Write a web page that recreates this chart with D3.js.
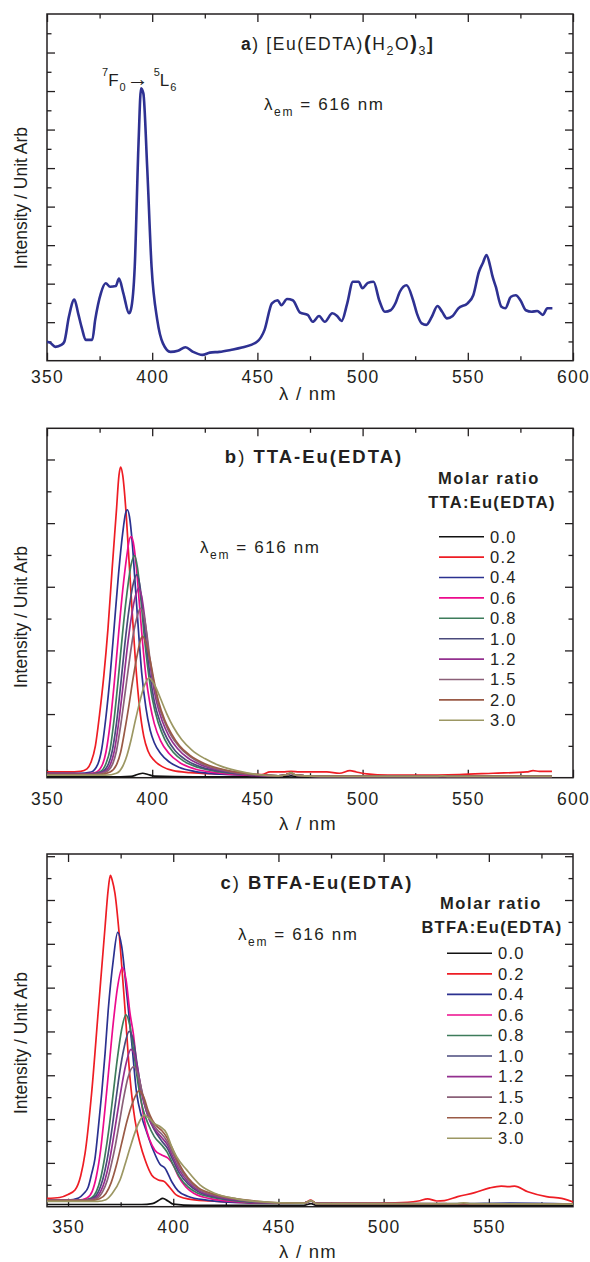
<!DOCTYPE html>
<html>
<head>
<meta charset="utf-8">
<script src="https://cdnjs.cloudflare.com/ajax/libs/d3/7.8.5/d3.min.js"></script>
<style>
  body { margin: 0; background: #fff; }
  text { font-family: "Liberation Sans", Arial, sans-serif; fill: #231f20; }
</style>
</head>
<body>
<script>
// ---- data (intensity in arbitrary units) ----
const ratioLabels = ["0.0", "0.2", "0.4", "0.6", "0.8", "1.0", "1.2", "1.5", "2.0", "3.0"];
const ratioColors = ["#111111", "#ee1d24", "#2b3190", "#ec0b8d", "#3d7c5b", "#4a4a7c",
                     "#93308f", "#8a6078", "#9a5a46", "#9c9763"];

// a) [Eu(EDTA)(H2O)3] excitation spectrum
const euEdta = [[350,0.49],[351.4,0.47],[354,0.36],[356.8,0.41],[358.2,0.49],[360.4,1.14],[363,1.59],
  [364.8,1.23],[366.6,0.84],[368.4,0.54],[371.5,0.54],[372.9,1.06],[375.6,1.75],[377.9,2.01],[380,1.92],
  [382.7,1.94],[384.2,2.13],[386.3,1.75],[389,1.23],[389.9,1.33],[391.7,2.44],[393.5,5.64],[394.7,7.07],
  [395.8,6.94],[397.6,5.04],[399.7,2.44],[402.4,1.06],[405.1,0.45],[408.7,0.23],[412.2,0.26],[415.8,0.35],
  [419.4,0.23],[423.9,0.15],[427.4,0.21],[431.9,0.23],[437.3,0.28],[442.6,0.34],[449.8,0.49],[453.4,0.8],
  [456.9,1.49],[459.6,1.57],[461.4,1.44],[464.1,1.6],[466.8,1.57],[470.3,1.25],[473.9,1.19],[476.3,1.01],
  [479.3,1.16],[482,1.01],[485.6,1.23],[487.9,1.16],[490,1.03],[492.7,1.49],[495.4,2.05],[498.1,2.05],
  [499.9,1.88],[502.5,2.02],[505.2,2.05],[507.9,1.57],[510.6,1.27],[513.3,1.31],[515.6,1.49],[517.7,1.79],
  [520.9,1.96],[524,1.57],[525.8,1.23],[528.1,0.97],[530.3,0.93],[532.9,1.14],[535.6,1.42],[537.8,1.27],
  [540.1,1.1],[542.8,1.16],[545.5,1.36],[549.9,1.49],[552.6,1.7],[555.3,2.31],[557.1,2.53],[558.9,2.74],
  [560.7,2.44],[561.6,2.22],[563.3,1.92],[566,1.4],[567.8,1.36],[570.5,1.66],[572.8,1.7],[575,1.57],
  [577.6,1.31],[580.3,1.27],[583,1.29],[585.7,1.19],[587.8,1.36],[590.2,1.36]];

// b) TTA-Eu(EDTA), one array per molar ratio
const tta00 = [[350,0.015],[385,0.015],[390,0.02],[393,0.05],[395.5,0.07],[398,0.05],[401,0.025],[420,0.015],
  [463,0.015],[466,0.03],[469,0.015],[590,0.015]];
const tta02 = [[350,0.09],[360,0.09],[366,0.1],[369,0.14],[371,0.25],[373,0.5],[375,1.0],[377,1.6],[379,2.35],
  [381,3.3],[383,4.2],[384.2,4.75],[385,4.88],[386,4.75],[387.5,4.2],[389,3.4],[390.5,2.6],[392,1.85],[394,1.1],
  [396,0.65],[398,0.42],[401,0.27],[405,0.17],[410,0.11],[418,0.08],[430,0.06],[445,0.05],[452,0.05],[456,0.09],
  [462,0.09],[466,0.1],[470,0.09],[483,0.09],[489,0.07],[494,0.11],[497,0.09],[502,0.06],[512,0.04],[526,0.04],
  [546,0.05],[562,0.07],[578,0.09],[581,0.11],[584,0.1],[590,0.1]];
const tta04 = [[350,0.07],[365,0.07],[371,0.09],[374,0.2],[376,0.45],[378,0.95],[380,1.6],[382,2.4],[384,3.2],
  [386,3.85],[387.3,4.15],[388.2,4.21],[389.2,4.1],[390.5,3.7],[392,3.0],[393.5,2.3],[395,1.65],[397,1.1],
  [399,0.75],[401,0.55],[404,0.38],[408,0.25],[413,0.16],[420,0.1],[430,0.06],[445,0.04],[460,0.03],[464,0.05],
  [466,0.07],[468,0.04],[480,0.02],[590,0.02]];
const tta06 = [[350,0.06],[368,0.06],[373,0.08],[376,0.18],[378,0.4],[380,0.85],[382,1.5],[384,2.25],[386,2.95],
  [388,3.5],[389.2,3.75],[390.1,3.79],[391,3.7],[392.5,3.3],[394,2.7],[395.5,2.1],[397,1.6],[399,1.15],[401,0.85],
  [404,0.58],[408,0.38],[413,0.24],[420,0.14],[430,0.08],[445,0.04],[460,0.03],[464,0.05],[466,0.07],[468,0.04],
  [480,0.02],[590,0.02]];
const tta08 = [[350,0.06],[370,0.06],[375,0.09],[378,0.22],[380,0.45],[382,0.95],[384,1.6],[386,2.3],[388,2.9],
  [390,3.35],[391.6,3.49],[393,3.3],[394.5,2.85],[396,2.3],[398,1.7],[400,1.25],[403,0.85],[406,0.6],[410,0.4],
  [415,0.26],[422,0.16],[432,0.09],[445,0.05],[460,0.03],[464,0.05],[466,0.07],[468,0.04],[480,0.02],[590,0.02]];
const tta10 = [[350,0.06],[371,0.06],[376,0.09],[379,0.2],[381,0.42],[383,0.85],[385,1.45],[387,2.1],[389,2.65],
  [391,3.05],[392.7,3.19],[394,3.05],[395.5,2.65],[397,2.15],[399,1.6],[401,1.2],[404,0.85],[407,0.62],[411,0.42],
  [416,0.28],[423,0.17],[433,0.1],[445,0.05],[460,0.03],[464,0.05],[466,0.07],[468,0.04],[480,0.02],[590,0.02]];
const tta12 = [[350,0.055],[372,0.055],[377,0.09],[380,0.2],[382,0.42],[384,0.85],[386,1.4],[388,2.0],[390,2.5],
  [392,2.85],[393.6,2.98],[395,2.85],[396.5,2.5],[398,2.05],[400,1.55],[402,1.2],[405,0.87],[408,0.65],[412,0.46],
  [417,0.31],[424,0.19],[434,0.11],[446,0.05],[460,0.03],[464,0.05],[466,0.07],[468,0.04],[480,0.02],[590,0.02]];
const tta15 = [[350,0.05],[373,0.05],[378,0.09],[381,0.2],[383,0.42],[385,0.82],[387,1.3],[389,1.8],[391,2.25],
  [393,2.55],[394.4,2.66],[396,2.55],[397.5,2.25],[399,1.85],[401,1.45],[403,1.15],[406,0.87],[409,0.66],[413,0.48],
  [418,0.33],[425,0.2],[435,0.11],[447,0.05],[460,0.03],[464,0.05],[466,0.07],[468,0.04],[480,0.02],[590,0.02]];
const tta20 = [[350,0.05],[375,0.05],[380,0.09],[383,0.2],[385,0.4],[387,0.75],[389,1.15],[391,1.58],[393,1.95],
  [394.5,2.17],[395.5,2.22],[397,2.12],[399,1.85],[401,1.5],[403,1.2],[406,0.9],[409,0.7],[413,0.5],[418,0.35],
  [425,0.22],[435,0.12],[447,0.06],[460,0.03],[464,0.05],[466,0.08],[468,0.04],[480,0.02],[590,0.02]];
const tta30 = [[350,0.04],[378,0.04],[383,0.07],[386,0.18],[388,0.35],[390,0.6],[392,0.9],[394,1.18],[396,1.42],
  [398.5,1.57],[400,1.52],[402,1.4],[404,1.24],[407,1.0],[410,0.8],[414,0.6],[419,0.43],[425,0.3],[432,0.19],
  [440,0.11],[450,0.05],[460,0.03],[464,0.05],[466,0.08],[468,0.04],[480,0.02],[535,0.02],[538,0.03],[541,0.02],
  [590,0.02]];
const ttaSeries = [tta00, tta02, tta04, tta06, tta08, tta10, tta12, tta15, tta20, tta30];

// c) BTFA-Eu(EDTA), one array per molar ratio
const btfa00 = [[340,0.05],[370,0.05],[385,0.05],[390,0.07],[393,0.14],[395,0.19],[397.5,0.13],[400,0.06],
  [410,0.03],[462,0.03],[465.5,0.07],[468,0.03],[590,0.03]];
const btfa02 = [[340,0.19],[346,0.21],[350,0.28],[353.3,0.38],[356,0.7],[358.1,1.22],[361.2,2.59],[364.4,4.49],
  [367.6,6.39],[369,7.2],[370.1,7.56],[371,7.45],[372.3,7.15],[374.7,6.01],[377.1,4.49],[379.4,2.97],[381.8,1.98],
  [384.2,1.45],[386.6,1.07],[389.8,0.72],[392.9,0.61],[395.5,0.58],[398,0.46],[401.4,0.27],[406.8,0.18],
  [417.6,0.13],[433.8,0.09],[450,0.08],[462.5,0.09],[465.4,0.15],[467.9,0.08],[487.6,0.08],[505.6,0.09],
  [516.4,0.13],[520.9,0.18],[525.3,0.13],[528.9,0.14],[535.2,0.23],[543.3,0.32],[550.5,0.43],[555.9,0.47],
  [559.5,0.46],[562.2,0.47],[568.5,0.34],[577.4,0.23],[584.6,0.19],[590,0.11]];
const btfa04 = [[340,0.15],[350,0.15],[355,0.2],[357.5,0.3],[359.6,0.45],[361.2,0.75],[362.8,1.1],[364.4,1.8],
  [366,2.59],[367.6,3.5],[369.1,4.49],[371.5,5.63],[373.6,6.26],[375.5,5.94],[377.9,4.87],[380.3,3.73],
  [382.6,2.59],[385,2.05],[387.4,1.7],[390.5,1.29],[393.7,0.97],[396.1,0.88],[399.3,0.57],[402.3,0.36],
  [406.8,0.24],[415.8,0.15],[433.8,0.09],[450,0.08],[462,0.08],[465.5,0.13],[468,0.07],[490,0.06],[540,0.07],
  [560,0.08],[590,0.06]];
const btfa06 = [[340,0.15],[355,0.15],[359,0.2],[361.5,0.35],[363.5,0.7],[365.5,1.3],[367.5,2.2],[369.5,3.2],
  [371.5,4.2],[373.5,5.0],[375.8,5.46],[377.5,5.2],[379.5,4.4],[381,3.96],[383.4,2.89],[386.6,1.9],[391.3,1.29],
  [394.5,1.18],[397.7,1.1],[400,0.95],[402.4,0.7],[406,0.45],[410,0.3],[418,0.18],[432,0.11],[450,0.08],[462,0.08],
  [465.5,0.13],[468,0.07],[590,0.06]];
const btfa08 = [[340,0.15],[357,0.15],[361,0.2],[363.5,0.35],[365.5,0.65],[367.5,1.15],[369.5,1.8],[371.5,2.6],
  [373.5,3.4],[375.5,4.05],[377.5,4.38],[379.3,4.15],[381.3,3.5],[383.3,2.8],[385.5,2.25],[388,1.9],[391,1.6],
  [394.5,1.41],[397,1.25],[400,0.95],[403,0.68],[407,0.45],[412,0.3],[420,0.2],[435,0.11],[450,0.08],[462,0.08],
  [465.5,0.13],[468,0.07],[590,0.06]];
const btfa10 = [[340,0.15],[358,0.15],[362,0.2],[364.5,0.35],[366.5,0.62],[368.5,1.05],[370.5,1.65],[372.5,2.35],
  [374.5,3.05],[376.5,3.6],[379.1,4.0],[381,3.8],[383,3.2],[385,2.6],[387.5,2.15],[390.5,1.8],[394.5,1.5],
  [397,1.35],[400,1.05],[403,0.76],[407,0.52],[412,0.34],[420,0.22],[435,0.12],[450,0.08],[462,0.08],[465.5,0.13],
  [468,0.07],[590,0.06]];
const btfa12 = [[340,0.15],[359,0.15],[363,0.2],[365.5,0.35],[367.5,0.6],[369.5,1.0],[371.5,1.55],[373.5,2.15],
  [375.5,2.75],[377.5,3.25],[379.9,3.59],[382,3.4],[384,2.9],[386,2.4],[388.5,2.0],[391.5,1.75],[394.5,1.58],
  [397,1.43],[400,1.12],[403,0.83],[407,0.57],[412,0.37],[420,0.24],[435,0.13],[450,0.08],[462,0.08],[465.5,0.13],
  [468,0.07],[590,0.06]];
const btfa15 = [[340,0.15],[360,0.15],[364,0.2],[366.5,0.35],[368.5,0.58],[370.5,0.95],[372.5,1.4],[374.5,1.95],
  [376.5,2.5],[378.5,2.95],[381.3,3.2],[383.3,3.0],[385.3,2.6],[387.5,2.2],[390,1.92],[392.5,1.75],[394.5,1.66],
  [397,1.5],[400,1.2],[403,0.9],[407,0.62],[412,0.4],[420,0.26],[435,0.14],[450,0.08],[462,0.08],[465.5,0.13],
  [468,0.07],[590,0.06]];
const btfa20 = [[340,0.14],[361,0.14],[365,0.18],[368,0.3],[370.5,0.55],[373,0.95],[375.5,1.45],[378,1.95],
  [380.5,2.35],[383.9,2.65],[386,2.5],[388,2.2],[390,1.98],[392.5,1.82],[394.5,1.74],[397,1.58],[400,1.28],
  [403,0.96],[407,0.66],[412,0.43],[420,0.28],[435,0.15],[450,0.09],[462,0.08],[465.5,0.14],[468,0.07],[590,0.06]];
const btfa30 = [[340,0.12],[364,0.12],[368,0.16],[371,0.3],[374.7,0.61],[377,0.95],[379.5,1.35],[382,1.72],
  [384,1.95],[386.2,2.09],[388.5,2.02],[391,1.9],[393.7,1.83],[396.9,1.67],[399,1.4],[401.6,1.14],[406.4,0.84],
  [412.7,0.5],[420,0.3],[430,0.18],[440,0.12],[450,0.09],[462,0.08],[465.5,0.14],[468,0.07],[535,0.07],[538,0.09],
  [541,0.07],[590,0.06]];
const btfaSeries = [btfa00, btfa02, btfa04, btfa06, btfa08, btfa10, btfa12, btfa15, btfa20, btfa30];

// ---- layout ----
const W = 590, H = 1262;
const svg = d3.select("body").append("svg").attr("width", W).attr("height", H);

const frameLeft = 47, frameRight = 573;

const panels = [
  {id: "a", top: 14, bottom: 360.7, xDomain: [350, 600], yMax: 9,
   xMajor: d3.range(350, 601, 50), xMinor: d3.range(375, 600, 50),
   tickBase: 383, titleBase: 400, yLabelY: 198},
  {id: "b", top: 428.3, bottom: 777.7, xDomain: [350, 600], yMax: 5.49,
   xMajor: d3.range(350, 601, 50), xMinor: d3.range(375, 600, 50),
   tickBase: 805, titleBase: 830, yLabelY: 617},
  {id: "c", top: 854, bottom: 1206.7, xDomain: [340, 590], yMax: 8.05,
   xMajor: d3.range(350, 551, 50), xMinor: d3.range(375, 590, 50),
   tickBase: 1233, titleBase: 1258, yLabelY: 1043}
];

function drawFrame(p) {
  const x = d3.scaleLinear().domain(p.xDomain).range([frameLeft, frameRight]);
  const y = d3.scaleLinear().domain([0, p.yMax]).range([p.bottom, p.top]);
  const g = svg.append("g").attr("class", "panel-" + p.id);

  g.append("clipPath").attr("id", "clip-" + p.id)
    .append("rect").attr("x", frameLeft).attr("y", p.top)
    .attr("width", frameRight - frameLeft).attr("height", p.bottom - p.top);

  const yMajor = d3.range(1, p.yMax, 1);
  const yMinor = d3.range(0.5, p.yMax, 1);
  const major = 8, minor = 4.5;

  // bottom axis with labels, inward ticks
  const bottom = g.append("g").attr("transform", `translate(0,${p.bottom})`)
    .call(d3.axisBottom(x).tickValues(p.xMajor).tickSizeInner(-major).tickSizeOuter(0)
      .tickFormat(d3.format("d")));
  bottom.selectAll("text").attr("y", p.tickBase - p.bottom).attr("dy", 0)
    .attr("font-size", 17.5).attr("letter-spacing", 1.2).attr("fill", "#231f20");
  g.append("g").attr("transform", `translate(0,${p.bottom})`)
    .call(d3.axisBottom(x).tickValues(p.xMinor).tickSizeInner(-minor).tickSizeOuter(0).tickFormat(""));
  g.append("g").attr("transform", `translate(0,${p.top})`)
    .call(d3.axisTop(x).tickValues(p.xMajor).tickSizeInner(-major).tickSizeOuter(0).tickFormat(""));
  g.append("g").attr("transform", `translate(0,${p.top})`)
    .call(d3.axisTop(x).tickValues(p.xMinor).tickSizeInner(-minor).tickSizeOuter(0).tickFormat(""));
  g.append("g").attr("transform", `translate(${frameLeft},0)`)
    .call(d3.axisLeft(y).tickValues(yMajor).tickSizeInner(-major).tickSizeOuter(0).tickFormat(""));
  g.append("g").attr("transform", `translate(${frameLeft},0)`)
    .call(d3.axisLeft(y).tickValues(yMinor).tickSizeInner(-minor).tickSizeOuter(0).tickFormat(""));
  g.append("g").attr("transform", `translate(${frameRight},0)`)
    .call(d3.axisRight(y).tickValues(yMajor).tickSizeInner(-major).tickSizeOuter(0).tickFormat(""));
  g.append("g").attr("transform", `translate(${frameRight},0)`)
    .call(d3.axisRight(y).tickValues(yMinor).tickSizeInner(-minor).tickSizeOuter(0).tickFormat(""));
  g.selectAll(".domain").remove();
  g.selectAll(".tick line").attr("stroke", "#231f20").attr("stroke-width", 1.3);

  g.append("rect").attr("x", frameLeft).attr("y", p.top)
    .attr("width", frameRight - frameLeft).attr("height", p.bottom - p.top)
    .attr("fill", "none").attr("stroke", "#231f20").attr("stroke-width", 1.5);

  // axis titles
  g.append("text").attr("x", 308).attr("y", p.titleBase).attr("text-anchor", "middle")
    .attr("font-size", 18.5).attr("letter-spacing", 1.3).text("λ / nm");
  g.append("text").attr("transform", `translate(27,${p.yLabelY}) rotate(-90)`)
    .attr("text-anchor", "middle").attr("font-size", 17.5).text("Intensity / Unit Arb");

  return {g, x, y};
}

function lambdaEm(g, x0, base) {
  const t = g.append("text").attr("x", x0).attr("y", base).attr("font-size", 17).attr("letter-spacing", 1.6);
  t.append("tspan").text("λ");
  t.append("tspan").attr("font-size", 12).attr("dy", 6).text("em");
  t.append("tspan").attr("dy", -6).text(" = 616 nm");
}

function legend(g, x0, y0, step, titleTop, titleBottom, tx, tyTop, tyBottom, txBottom) {
  g.append("text").attr("x", tx).attr("y", tyTop).attr("text-anchor", "middle")
    .attr("font-size", 16.5).attr("font-weight", "bold").attr("letter-spacing", 1.6).text(titleTop);
  g.append("text").attr("x", txBottom).attr("y", tyBottom).attr("text-anchor", "middle")
    .attr("font-size", 16.5).attr("font-weight", "bold").attr("letter-spacing", 1.3).text(titleBottom);
  const rows = g.selectAll(".leg").data(ratioLabels).join("g")
    .attr("transform", (d, i) => `translate(${x0},${y0 + i * step})`);
  rows.append("line").attr("x1", 0).attr("x2", 45)
    .attr("stroke", (d, i) => ratioColors[i]).attr("stroke-width", 1.6);
  rows.append("text").attr("x", 51).attr("y", 5.8).attr("font-size", 16.5).attr("letter-spacing", 1.2)
    .text(d => d);
}

// ---- panel a ----
{
  const p = panels[0];
  const {g, x, y} = drawFrame(p);
  const line = d3.line().x(d => x(d[0])).y(d => y(d[1])).curve(d3.curveMonotoneX);
  g.append("path").datum(euEdta).attr("clip-path", "url(#clip-a)")
    .attr("fill", "none").attr("stroke", "#2e3192").attr("stroke-width", 2.6)
    .attr("stroke-linejoin", "round").attr("d", line);

  const t = g.append("text").attr("x", 241).attr("y", 50).attr("font-size", 17.5).attr("letter-spacing", 1.6);
  t.append("tspan").attr("font-weight", "bold").text("a");
  t.append("tspan").text(") [Eu(EDTA)");
  t.append("tspan").attr("font-weight", "bold").attr("font-size", 20).text("(");
  t.append("tspan").text("H");
  t.append("tspan").attr("font-size", 12.5).attr("dy", 5).text("2");
  t.append("tspan").attr("dy", -5).text("O");
  t.append("tspan").attr("font-weight", "bold").attr("font-size", 20).text(")");
  t.append("tspan").attr("font-size", 12.5).attr("dy", 5).text("3");
  t.append("tspan").attr("dy", -5).attr("font-weight", "bold").text("]");

  const tr = g.append("text").attr("x", 102).attr("y", 86).attr("font-size", 17);
  tr.append("tspan").attr("font-size", 11).attr("dy", -10).text("7");
  tr.append("tspan").attr("dy", 10).text("F");
  tr.append("tspan").attr("font-size", 11).attr("dy", 5).attr("dx", 1).text("0");
  tr.append("tspan").attr("dy", -5).attr("dx", 1).attr("font-size", 22).text("→");
  tr.append("tspan").attr("font-size", 11).attr("dy", -10).attr("dx", 5).text("5");
  tr.append("tspan").attr("dy", 10).text("L");
  tr.append("tspan").attr("font-size", 11).attr("dy", 5).attr("dx", 1).text("6");

  lambdaEm(g, 264, 110);
}

// ---- panels b and c ----
function ratioPanel(p, series, titleLetter, titleRest, titleX, titleBase, legendCfg, lamX, lamBase) {
  const {g, x, y} = drawFrame(p);
  const line = d3.line().x(d => x(d[0])).y(d => y(d[1])).curve(d3.curveMonotoneX);
  g.append("g").attr("clip-path", `url(#clip-${p.id})`)
    .selectAll("path").data(series).join("path")
    .attr("fill", "none").attr("stroke", (d, i) => ratioColors[i]).attr("stroke-width", 1.7)
    .attr("stroke-linejoin", "round").attr("d", line);

  const t = g.append("text").attr("x", titleX).attr("y", titleBase).attr("text-anchor", "middle")
    .attr("font-size", 18.5).attr("letter-spacing", 2);
  t.append("tspan").attr("font-weight", "bold").text(titleLetter);
  t.append("tspan").text(")");
  t.append("tspan").attr("font-weight", "bold").text(" " + titleRest);

  legend(g, ...legendCfg);
  lambdaEm(g, lamX, lamBase);
}

ratioPanel(panels[1], ttaSeries, "b", "TTA-Eu(EDTA)", 314, 463,
  [439, 536.7, 20.4, "Molar ratio", "TTA:Eu(EDTA)", 489, 484, 507.5, 492], 200, 553);
ratioPanel(panels[2], btfaSeries, "c", "BTFA-Eu(EDTA)", 317, 888.5,
  [447, 953.3, 20.55, "Molar ratio", "BTFA:Eu(EDTA)", 491, 908.5, 932.5, 492], 238, 940);
</script>
</body>
</html>
